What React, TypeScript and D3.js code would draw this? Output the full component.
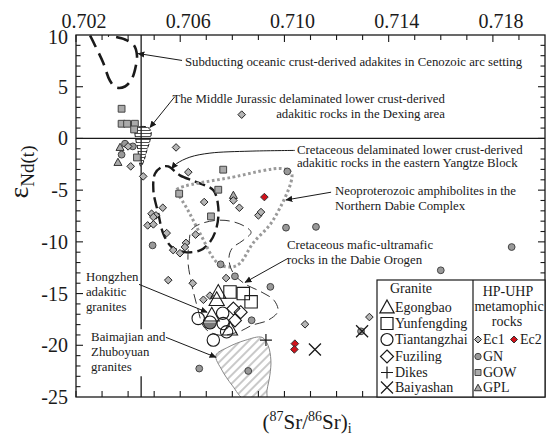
import React from 'react'
import * as d3 from 'd3'

type Pt = [number, number]

const width = 547
const height = 438
const plot = { left: 76, right: 545, top: 35, bottom: 397 }

const srDomain: Pt = [0.702, 0.72]
const ndDomain: Pt = [-25, 10]
const srLabels = [0.702, 0.706, 0.71, 0.714, 0.718]
const ndLabels = [10, 5, 0, -5, -10, -15, -20, -25]
const bulkEarthSr = 0.7045

// granites
const egongbao: Pt[] = [[0.70746, -14.9], [0.7074, -15.6], [0.70721, -17.1], [0.70791, -18.45]]
const yunfengding: Pt[] = [[0.70791, -14.85], [0.70842, -15.0], [0.70872, -15.8]]
const tiantangzhai: Pt[] = [[0.70669, -17.4], [0.70763, -16.9], [0.70765, -17.9], [0.70778, -18.7], [0.70727, -19.5]]
const fuziling: Pt[] = [[0.70804, -16.45], [0.70832, -16.8], [0.7081, -17.6]]
const dikes: Pt[] = [[0.70929, -19.5]]
const baiyashan: Pt[] = [[0.71117, -20.4], [0.71298, -18.65]]
const hongzhen: Pt[] = [[0.70714, -17.8]]

// HP-UHP metamorphic rocks
const ec1: Pt[] = [
  [0.70836, 2.3], [0.70584, -0.87], [0.704, -0.77], [0.7041, -2.7], [0.70458, -3.67],
  [0.70631, -3.26], [0.70692, -6.15], [0.70827, -6.7], [0.709, -7.44], [0.7091, -7.12],
  [0.70533, -6.7], [0.7049, -7.28], [0.70507, -7.44], [0.70497, -7.6], [0.70475, -8.41],
  [0.70497, -8.31], [0.70548, -9.15], [0.70659, -9.3], [0.70622, -10.1], [0.70573, -10.8],
  [0.70599, -11.1], [0.70618, -10.5], [0.70554, -13.7], [0.70648, -14.0], [0.70776, -13.5],
  [0.70689, -15.6], [0.70714, -15.2], [0.71079, -17.97], [0.71326, -17.27], [0.70804, -6.0]
]
const ec2: Pt[] = [[0.70923, -5.67], [0.7104, -19.84], [0.71038, -20.4]]
const gn: Pt[] = [
  [0.70388, -0.51], [0.70418, -0.77], [0.70375, -1.57], [0.71011, -3.19], [0.71006, -8.63],
  [0.71121, -8.55], [0.70494, -10.34], [0.70755, -12.17], [0.7081, -13.33], [0.70946, -14.35],
  [0.71872, -10.5], [0.716, -12.75], [0.70874, -17.58], [0.71294, -18.65], [0.70673, -22.25],
  [0.70861, -22.48]
]
const gow: Pt[] = [
  [0.70375, 2.87], [0.70375, 1.42], [0.70396, 1.42], [0.70426, 1.42], [0.70423, 0.87],
  [0.70434, -1.84], [0.70765, -3.02], [0.70596, -5.34], [0.70746, -4.96], [0.70718, -7.54]
]
const gpl: Pt[] = [[0.70369, -0.87], [0.70361, -2.32], [0.70804, -5.51]]

// outlined fields
const subductingField: Pt[] = [
  [0.70254, 9.95], [0.70273, 8.99], [0.70304, 7.34], [0.7033, 5.6], [0.70353, 4.93],
  [0.70388, 5.02], [0.70415, 5.8], [0.7043, 7.05], [0.70434, 8.02], [0.70423, 8.99],
  [0.70388, 9.57], [0.70323, 9.95]
]
const jurassicField: Pt[] = [
  [0.7043, 0.97], [0.70453, 1.16], [0.70476, 1.06], [0.70488, 0.68], [0.70484, -0.19],
  [0.70472, -1.16], [0.70461, -2.13], [0.70449, -2.7], [0.70442, -2.13], [0.70438, -1.16],
  [0.7043, -0.19], [0.70426, 0.68]
]
const yangtzeField: Pt[] = [
  [0.70554, -2.71], [0.70599, -3.57], [0.70663, -4.22], [0.70727, -5.02], [0.70746, -6.64],
  [0.7074, -8.57], [0.70714, -10.02], [0.70676, -10.82], [0.70618, -10.99], [0.70567, -10.5],
  [0.70535, -9.21], [0.70516, -7.28], [0.70497, -5.02], [0.70503, -3.41], [0.70529, -2.77]
]
const amphiboliteField: Pt[] = [
  [0.70586, -4.96], [0.70802, -3.74], [0.70995, -2.93], [0.71028, -3.41], [0.70956, -7.92],
  [0.70879, -10.14], [0.70829, -12.08], [0.70797, -12.43], [0.70745, -12.08], [0.70676, -9.18],
  [0.7063, -6.96], [0.70591, -5.31]
]
const maficField: Pt[] = [
  [0.70645, -8.79], [0.70695, -8.12], [0.70772, -7.92], [0.70841, -8.41], [0.70872, -9.08],
  [0.70841, -9.86], [0.70799, -10.63], [0.70787, -11.59], [0.70802, -12.95], [0.70845, -14.01],
  [0.70914, -14.88], [0.7096, -15.65], [0.70975, -16.71], [0.70937, -17.58], [0.70875, -18.07],
  [0.70829, -18.65], [0.70753, -19.03], [0.70695, -18.36], [0.70664, -16.14], [0.70645, -14.2],
  [0.7063, -11.98], [0.70634, -10.05]
]
const baimajianField: Pt[] = [
  [0.70737, -20.97], [0.70783, -20.19], [0.70849, -19.52], [0.70914, -19.23], [0.70937, -20.0],
  [0.70948, -21.45], [0.70944, -22.9], [0.70933, -24.35], [0.70929, -25.3], [0.70849, -25.3],
  [0.70799, -23.86], [0.7076, -22.4]
]

// annotations
const notes = [
  { lines: ['Subducting oceanic crust-derived adakites in Cenozoic arc setting'], at: [0.70618, 7.0], baselines: [7.0], anchor: 'start', leader: [[0.70607, 7.54], [0.70438, 8.21]] },
  { lines: ['The Middle Jurassic delaminated lower crust-derived', 'adakitic rocks in the Dexing area'], at: [0.71616, 3.38], baselines: [3.38, 1.93], anchor: 'end', leader: [[0.7058, 4.06], [0.70484, 1.06]] },
  { lines: ['Cretaceous delaminated lower crust-derived', 'adakitic rocks in the eastern Yangtze Block'], at: [0.71048, -1.48], baselines: [-1.48, -2.77], anchor: 'start', leader: [[0.7104, -1.16], [0.70868, -1.23], [0.70714, -1.42], [0.70637, -1.81], [0.70586, -2.44], [0.70567, -2.93]] },
  { lines: ['Neoproterozoic amphibolites in the', 'Northern Dabie Complex'], at: [0.71194, -5.48], baselines: [-5.48, -6.96], anchor: 'start', leader: [[0.71179, -5.2], [0.71006, -5.95]] },
  { lines: ['Cretaceous mafic-ultramafic', 'rocks in the Dabie Orogen'], at: [0.7101, -10.72], baselines: [-10.72, -12.1], anchor: 'start', leader: [[0.71014, -11.59], [0.70849, -13.91]] },
  { lines: ['Hongzhen', 'adakitic', 'granites'], at: [0.70238, -13.82], baselines: [-13.82, -15.27, -16.71], anchor: 'start', leader: [[0.70442, -14.11], [0.70703, -16.81]] },
  { lines: ['Baimajian and', 'Zhuboyuan', 'granites'], at: [0.70258, -19.61], baselines: [-19.61, -21.06, -22.51], anchor: 'start', leader: [[0.70545, -19.23], [0.70737, -21.16]], blank: true }
]

const font = "'Liberation Serif', 'Times New Roman', Times, serif"
const ink = '#1a1a1a'

const symbolPath = (kind: string, r: number) => {
  const p = d3.path()
  if (kind === 'circle') p.arc(0, 0, r, 0, 2 * Math.PI)
  else if (kind === 'square') p.rect(-r, -r, 2 * r, 2 * r)
  else if (kind === 'diamond') { p.moveTo(0, -r); p.lineTo(r, 0); p.lineTo(0, r); p.lineTo(-r, 0); p.closePath() }
  else if (kind === 'triangle') { p.moveTo(0, -r); p.lineTo(r * 0.95, r * 0.72); p.lineTo(-r * 0.95, r * 0.72); p.closePath() }
  else if (kind === 'plus') { p.moveTo(-r, 0); p.lineTo(r, 0); p.moveTo(0, -r); p.lineTo(0, r) }
  else if (kind === 'cross') { p.moveTo(-r, -r); p.lineTo(r, r); p.moveTo(r, -r); p.lineTo(-r, r) }
  return p.toString()
}

const series = [
  { data: gn, kind: 'circle', r: 3.4, fill: '#999', stroke: '#444', sw: 1 },
  { data: gow, kind: 'square', r: 3.4, fill: '#aaa', stroke: '#444', sw: 1 },
  { data: gpl, kind: 'triangle', r: 4.2, fill: '#aaa', stroke: '#333', sw: 1 },
  { data: ec1, kind: 'diamond', r: 3.8, fill: '#b5b5b5', stroke: '#222', sw: 1 },
  { data: ec2, kind: 'diamond', r: 3.8, fill: '#d0121b', stroke: '#333', sw: 1 },
  { data: tiantangzhai, kind: 'circle', r: 6.2, fill: 'none', stroke: ink, sw: 1.1 },
  { data: yunfengding, kind: 'square', r: 6.2, fill: 'none', stroke: ink, sw: 1.1 },
  { data: fuziling, kind: 'diamond', r: 6.5, fill: 'none', stroke: ink, sw: 1.1 },
  { data: egongbao, kind: 'triangle', r: 8, fill: 'none', stroke: ink, sw: 1.1 },
  { data: dikes, kind: 'plus', r: 6, fill: 'none', stroke: ink, sw: 1.2 },
  { data: baiyashan, kind: 'cross', r: 6, fill: 'none', stroke: ink, sw: 1.3 }
]

export default function App() {
  const x = d3.scaleLinear().domain(srDomain).range([plot.left, plot.right])
  const y = d3.scaleLinear().domain(ndDomain).range([plot.bottom, plot.top])

  const closed = d3.line<Pt>().x(d => x(d[0])).y(d => y(d[1])).curve(d3.curveCatmullRomClosed)
  const open = d3.line<Pt>().x(d => x(d[0])).y(d => y(d[1])).curve(d3.curveCatmullRom)
  const straight = d3.line<Pt>().x(d => x(d[0])).y(d => y(d[1]))

  const srMinor = d3.range(0, 18).map(i => srDomain[0] + i * 0.001)
  const ndMinor = d3.range(-24, 10, 1)

  const legendLeft = [
    { kind: 'triangle', r: 7.5, label: 'Egongbao', y: 312 },
    { kind: 'square', r: 6, label: 'Yunfengding', y: 328 },
    { kind: 'circle', r: 6, label: 'Tiantangzhai', y: 344 },
    { kind: 'diamond', r: 6.5, label: 'Fuziling', y: 361 },
    { kind: 'plus', r: 6, label: 'Dikes', y: 377 },
    { kind: 'cross', r: 6, label: 'Baiyashan', y: 392 }
  ]

  return (
    <svg width={width} height={height} style={{ position: 'absolute', left: 0, top: 0, background: '#fff', fontFamily: font }}>
      <defs>
        <clipPath id='plotClip'>
          <rect x={plot.left} y={plot.top} width={plot.right - plot.left} height={plot.bottom - plot.top} />
        </clipPath>
        <pattern id='hatchH' width='4' height='3' patternUnits='userSpaceOnUse'>
          <line x1='0' y1='1.5' x2='4' y2='1.5' stroke='#222' strokeWidth='0.8' />
        </pattern>
        <pattern id='hatchD' width='6' height='6' patternUnits='userSpaceOnUse' patternTransform='rotate(-45)'>
          <line x1='0' y1='3' x2='6' y2='3' stroke='#777' strokeWidth='0.8' />
        </pattern>
        <marker id='arrow' viewBox='0 0 10 10' refX='9' refY='5' markerWidth='7' markerHeight='7' markerUnits='userSpaceOnUse' orient='auto'>
          <path d='M0,0.5 L10,5 L0,9.5 z' fill={ink} />
        </marker>
      </defs>

      {/* reference lines */}
      <line x1={plot.left} x2={plot.right} y1={y(0)} y2={y(0)} stroke={ink} strokeWidth={1.3} />
      <line x1={x(bulkEarthSr)} x2={x(bulkEarthSr)} y1={plot.top} y2={plot.bottom} stroke={ink} strokeWidth={1.3} />

      {/* fields */}
      <g clipPath='url(#plotClip)'>
        <path d={closed(baimajianField) || ''} fill='url(#hatchD)' stroke='#888' strokeWidth={1} />
        <path d={closed(jurassicField) || ''} fill='url(#hatchH)' stroke={ink} strokeWidth={1} strokeDasharray='4 2' />
        <path d={open(subductingField) || ''} fill='none' stroke={ink} strokeWidth={2.6} strokeDasharray='13 7' />
        <path d={closed(yangtzeField) || ''} fill='none' stroke={ink} strokeWidth={2.4} strokeDasharray='11 5' />
        <path d={closed(amphiboliteField) || ''} fill='none' stroke='#9a9a9a' strokeWidth={3} strokeDasharray='2.6 2.6' />
        <path d={closed(maficField) || ''} fill='none' stroke='#333' strokeWidth={1} strokeDasharray='10 5' />
      </g>

      {/* samples */}
      {hongzhen.map((d, i) => (
        <g key={'hz' + i} transform={`translate(${x(d[0])},${y(d[1])})`}>
          <path d='M-6.5,0 A6.5,6.5 0 0 0 6.5,0 Z' fill='#777' />
          <path d={symbolPath('circle', 6.5)} fill='none' stroke={ink} strokeWidth={1.1} />
        </g>
      ))}
      {series.map((s, si) => (
        <g key={si}>
          {s.data.map((d, i) => (
            <path key={i} d={symbolPath(s.kind, s.r)} transform={`translate(${x(d[0])},${y(d[1])})`}
              fill={s.fill} stroke={s.stroke} strokeWidth={s.sw} />
          ))}
        </g>
      ))}

      {/* annotations */}
      {notes.map((n, i) => (
        <g key={'n' + i}>
          {n.blank && (
            <rect x={x(n.at[0]) - 3} y={y(n.baselines[0]) - 12} width={80} height={47} fill='#fff' />
          )}
          <path d={(n.leader.length > 2 ? open : straight)(n.leader as Pt[]) || ''}
            fill='none' stroke={ink} strokeWidth={1} markerEnd='url(#arrow)' />
          {n.lines.map((t, j) => (
            <text key={j} x={x(n.at[0])} y={y(n.baselines[j])} textAnchor={n.anchor as any} fontSize={12.8} fill={ink}>{t}</text>
          ))}
        </g>
      ))}

      {/* frame and ticks */}
      <rect x={plot.left} y={plot.top} width={plot.right - plot.left} height={plot.bottom - plot.top} fill='none' stroke={ink} strokeWidth={1.3} />
      {srMinor.map((v, i) => {
        const len = srLabels.some(l => Math.abs(l - v) < 1e-7) ? 7 : 5
        return (
          <g key={'sx' + i}>
            <line x1={x(v)} x2={x(v)} y1={plot.top} y2={plot.top + len} stroke={ink} strokeWidth={1.1} />
            <line x1={x(v)} x2={x(v)} y1={plot.bottom} y2={plot.bottom - 6} stroke={ink} strokeWidth={1.1} />
          </g>
        )
      })}
      {ndMinor.map(v => {
        const len = v % 5 === 0 ? 7 : 4.5
        return (
          <g key={'ny' + v}>
            <line x1={plot.left} x2={plot.left + len} y1={y(v)} y2={y(v)} stroke={ink} strokeWidth={1.1} />
            <line x1={plot.right} x2={plot.right - len} y1={y(v)} y2={y(v)} stroke={ink} strokeWidth={1.1} />
          </g>
        )
      })}
      {srLabels.map(v => (
        <text key={'lx' + v} x={x(v) + 8} y={28} textAnchor='middle' fontSize={20} fill={ink}>{d3.format('.3f')(v)}</text>
      ))}
      {ndLabels.map(v => (
        <text key={'ly' + v} x={68} y={y(v) + (v === 10 ? 2 : 0)} dy='0.35em' textAnchor='end' fontSize={20} fill={ink}>{v}</text>
      ))}

      {/* axis titles */}
      <text x={307} y={429} textAnchor='middle' fontSize={21} fill={ink}>
        (<tspan fontSize={14} dy={-8}>87</tspan><tspan dy={8}>Sr/</tspan><tspan fontSize={14} dy={-8}>86</tspan><tspan dy={8}>Sr)</tspan><tspan fontSize={14} dy={4}>i</tspan>
      </text>
      <text transform='translate(28,172) rotate(-90)' textAnchor='middle' fontSize={28} fill={ink}>
        ε<tspan fontSize={19} dy={6}>Nd(t)</tspan>
      </text>

      {/* legend */}
      <g>
        <rect x={377} y={280} width={plot.right - 377} height={plot.bottom - 280} fill='#fff' stroke={ink} strokeWidth={1.2} />
        <line x1={473} x2={473} y1={280} y2={plot.bottom} stroke={ink} strokeWidth={1.2} />
        <text x={411} y={293} textAnchor='middle' fontSize={14} fill={ink}>Granite</text>
        {legendLeft.map(l => (
          <g key={l.label}>
            <path d={symbolPath(l.kind, l.r)} transform={`translate(387,${l.y - 4.5})`} fill='none' stroke={ink} strokeWidth={1.2} />
            <text x={395} y={l.y} fontSize={14} fill={ink}>{l.label}</text>
          </g>
        ))}
        <text x={508} y={296} textAnchor='middle' fontSize={14} fill={ink}>HP-UHP</text>
        <text x={509} y={311} textAnchor='middle' fontSize={14} fill={ink}>metamophic</text>
        <text x={507} y={326} textAnchor='middle' fontSize={14} fill={ink}>rocks</text>
        <path d={symbolPath('diamond', 3.5)} transform='translate(478,339.5)' fill='#b5b5b5' stroke='#222' />
        <text x={483} y={344} fontSize={14} fill={ink}>Ec1</text>
        <path d={symbolPath('diamond', 3.5)} transform='translate(514,339.5)' fill='#d0121b' stroke='#333' />
        <text x={520} y={344} fontSize={14} fill={ink}>Ec2</text>
        <path d={symbolPath('circle', 3.2)} transform='translate(478,356.5)' fill='#999' stroke='#444' />
        <text x={483} y={361} fontSize={14} fill={ink}>GN</text>
        <path d={symbolPath('square', 3)} transform='translate(478,372.5)' fill='#aaa' stroke='#444' />
        <text x={483} y={377} fontSize={14} fill={ink}>GOW</text>
        <path d={symbolPath('triangle', 3.8)} transform='translate(478,388)' fill='#aaa' stroke='#333' />
        <text x={483} y={392} fontSize={14} fill={ink}>GPL</text>
      </g>
    </svg>
  )
}
